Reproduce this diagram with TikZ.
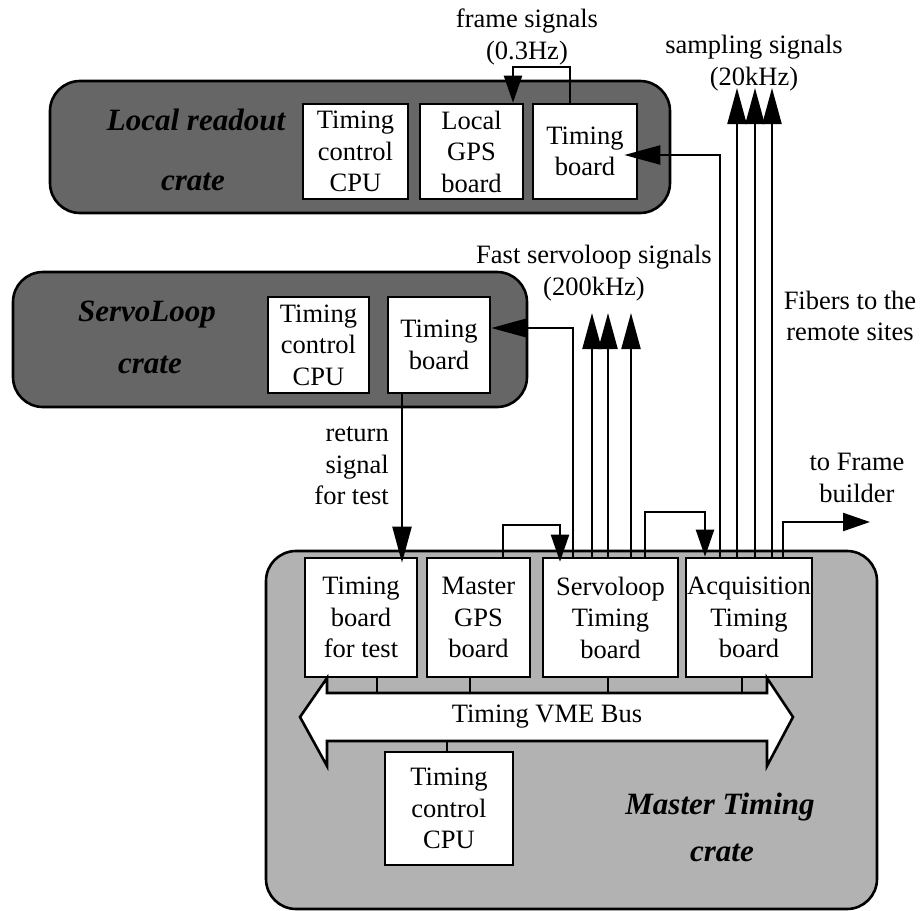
\documentclass[tikz,border=0pt]{standalone}
\usepackage{fontspec}
\setmainfont{Liberation Serif}
\usetikzlibrary{arrows.meta}
\newcommand{\fs}{\fontsize{26.5}{31.5}\selectfont}
\newcommand{\cfs}{\fontsize{31}{36}\selectfont\bfseries\itshape}
\begin{document}
\begin{tikzpicture}[x=1pt,y=-1pt,
  board/.style={draw, line width=2.6pt, fill=white, inner sep=0pt, align=center, font=\fs},
  crate/.style={draw, line width=2.6pt, rounded corners=30pt, inner sep=0pt},
  darkcrate/.style={crate, fill=black!60},
  lightcrate/.style={crate, fill=black!30},
  sig/.style={line width=2.2pt},
  bigtip/.style={-{Triangle[length=36pt,width=19pt]}},
  smalltip/.style={-{Triangle[length=27pt,width=18pt]}},
  lbl/.style={align=center, font=\fs, inner sep=0pt},
  cratelbl/.style={font=\cfs, inner sep=0pt},
]
\useasboundingbox (0,0) rectangle (922,911);

% crates
\node[darkcrate, minimum width=620pt, minimum height=132pt] (lcrate) at (360,147) {};
\node[darkcrate, minimum width=514pt, minimum height=135pt] (scrate) at (270,339.5) {};
\node[lightcrate, minimum width=611pt, minimum height=358pt] (mcrate) at (571.5,730) {};

% crate labels
\node[cratelbl] (llbl1) at (196,120) {Local readout};
\node[cratelbl] (llbl2) at (193,182) {crate};
\node[cratelbl] (slbl1) at (147,315) {ServoLoop};
\node[cratelbl] (slbl2) at (150,365) {crate};
\node[cratelbl] (mlbl1) at (720,807) {Master Timing};
\node[cratelbl] (mlbl2) at (722,853) {crate};

% local readout boards
\node[board, minimum width=105pt, minimum height=95pt] (lcpu) at (355.5,151.5) {Timing\\control\\CPU};
\node[board, minimum width=103pt, minimum height=95pt] (lgps) at (471.5,151.5) {Local\\GPS\\board};
\node[board, minimum width=104pt, minimum height=95pt] (ltb) at (585,151.5) {Timing\\board};

% servoloop boards
\node[board, minimum width=101pt, minimum height=96pt] (scpu) at (318.5,345) {Timing\\control\\CPU};
\node[board, minimum width=102pt, minimum height=96pt] (stb) at (439,345) {Timing\\board};

% master boards
\node[board, minimum width=112pt, minimum height=119pt] (mtest) at (361,617.5) {Timing\\board\\for test};
\node[board, minimum width=103pt, minimum height=119pt] (mgps) at (478.5,617.5) {Master\\GPS\\board};
\node[board, minimum width=135pt, minimum height=119pt] (mservo) at (610.5,617.5) {Servoloop\\Timing\\board};
\node[board, minimum width=126pt, minimum height=119pt] (macq) at (749,617.5) {Acquisition\\Timing\\board};
\node[board, minimum width=128pt, minimum height=113pt] (mcpu) at (449,808.5) {Timing\\control\\CPU};

% VME bus
\draw[line width=2.6pt, fill=white, line join=miter]
  (300,717) -- (327,678) -- (327,693) -- (767,693) -- (767,678) -- (793,717)
  -- (767,766) -- (767,741) -- (327,741) -- (327,766) -- cycle;
\node[lbl, minimum width=440pt, minimum height=48pt] (bus) at (547,717) {Timing VME Bus};
\draw[line width=2.6pt] ([xshift=16pt]mtest.south) -- ([xshift=-170pt]bus.north);
\draw[line width=2.6pt] ([xshift=-8.5pt]mgps.south) -- ([xshift=-77pt]bus.north);
\draw[line width=2.6pt] ([xshift=-2.5pt]mservo.south) -- ([xshift=61pt]bus.north);
\draw[line width=2.6pt] ([xshift=-7pt]macq.south) -- ([xshift=195pt]bus.north);
\draw[line width=2.6pt] ([xshift=-100pt]bus.south) -- ([xshift=-2pt]mcpu.north);

% labels
\node[lbl] (framelbl) at (527,37) {frame signals\\(0.3Hz)};
\node[lbl] (samplbl) at (754,63) {sampling signals\\(20kHz)};
\node[lbl] (fastlbl) at (594,273) {Fast servoloop signals\\(200kHz)};
\node[lbl] (fiberlbl) at (850,316) {Fibers to the\\remote sites};
\node[lbl, align=right, anchor=east] (retlbl) at (389,466) {return\\signal\\for test};
\node[lbl] (fblbl) at (857,478) {to Frame\\builder};

% free ends
\coordinate (sv1) at (592,313);
\coordinate (sv2) at (608,313);
\coordinate (sv3) at (631,313);
\coordinate (sa1) at (737,88);
\coordinate (sa2) at (755,88);
\coordinate (sa3) at (772,88);
\coordinate (fb) at (870,522);

% frame signals
\draw[sig, smalltip] ([xshift=-15pt]ltb.north) -- ++(0,-35.5) -| ([xshift=41.5pt]lgps.north);
% fiber to local timing board
\draw[sig, bigtip, shorten >=-14pt] ([xshift=-29pt]macq.north) |- ([yshift=-3.5pt]ltb.east);
% sampling signals
\draw[sig, bigtip] ([xshift=-12pt]macq.north) -- (sa1);
\draw[sig, bigtip] ([xshift=6pt]macq.north) -- (sa2);
\draw[sig, bigtip] ([xshift=23pt]macq.north) -- (sa3);
% to frame builder
\draw[sig, smalltip] ([xshift=34pt]macq.north) |- (fb);
% servoloop feed
\draw[sig, bigtip] ([xshift=-37.5pt]mservo.north) |- ([yshift=17pt]stb.east);
% fast servoloop signals
\draw[sig, bigtip] ([xshift=-18.5pt]mservo.north) -- (sv1);
\draw[sig, bigtip] ([xshift=-2.5pt]mservo.north) -- (sv2);
\draw[sig, bigtip] ([xshift=20.5pt]mservo.north) -- (sv3);
% return signal
\draw[sig, bigtip, shorten >=-6pt] ([xshift=-37pt]stb.south) -- ([xshift=41pt]mtest.north);
% brackets
\draw[sig, smalltip, shorten >=-5pt] ([xshift=24.5pt]mgps.north) -- ++(0,-32) -| ([xshift=-50.5pt]mservo.north);
\draw[sig, smalltip] ([xshift=34.5pt]mservo.north) -- ++(0,-45) -| ([xshift=-44pt]macq.north);
\end{tikzpicture}
\end{document}
